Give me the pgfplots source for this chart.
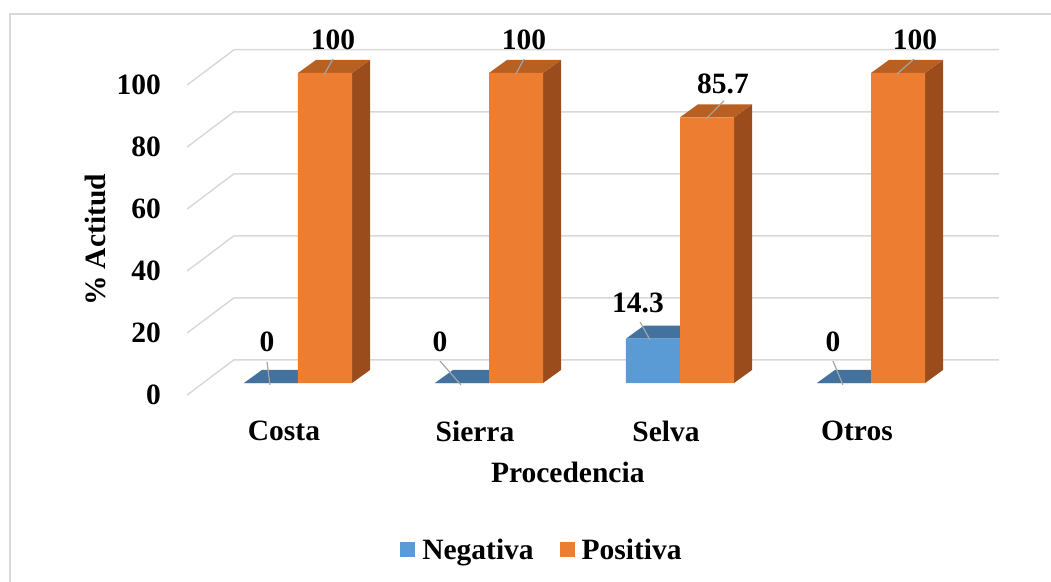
\documentclass[border=0pt]{standalone}
\usepackage{pgfplots}
\pgfplotsset{compat=1.18}
\usepackage{fontspec}
\setmainfont{Liberation Serif}
\definecolor{blueF}{HTML}{5B9BD5}
\definecolor{blueT}{HTML}{44729E}
\definecolor{orangeF}{HTML}{ED7D31}
\definecolor{orangeT}{HTML}{B85F22}
\definecolor{orangeS}{HTML}{9A4C1C}
\definecolor{gridc}{HTML}{D9D9D9}
\definecolor{leadc}{HTML}{A5A5A5}
\newcommand\cf{\fontsize{29.5}{35}\selectfont\bfseries}
\begin{document}
\begin{tikzpicture}
\useasboundingbox (-183.4pt,-182.5pt) rectangle (867.6pt,398.5pt);
\draw[gridc, line width=1.5pt] (-173.4pt,384.5pt) rectangle (900pt,-250pt);
\begin{axis}[
  at={(0,0)}, anchor=south west,
  scale only axis, width=821.3pt, height=372pt,
  xmin=-0.6, xmax=3.7, ymin=-5, ymax=115,
  clip=false,
  axis line style={draw=none},
  major tick length=0pt,
  font=\cf,
  /pgf/number format/assume math mode=true,
  xtick={0,1,2,3},
  xticklabels={Costa,Sierra,Selva,Otros},
  xticklabel style={xshift=-14pt, yshift=-19pt},
  ytick={-3.9,16.1,36.1,56.1,76.1,96.1},
  yticklabels={0,20,40,60,80,100},
  yticklabel style={xshift=-19pt},
  xlabel={Procedencia},
  xlabel style={at={(axis description cs:0.468,-0.1976)}, anchor=center},
  ylabel={\% Actitud},
  ylabel style={at={(axis description cs:-0.1076,0.426)}, anchor=center, rotate=0},
  legend style={at={(axis description cs:0.4366,-0.407)}, anchor=center, draw=none,
    font=\cf, legend columns=2,
    /tikz/every even column/.append style={column sep=24pt}},
  legend image code/.code={\fill[#1, draw=none] (0pt,-7.5pt) rectangle (15pt,7.5pt); \path[draw=none, fill=none] (0pt,0pt) -- (20pt,0pt);},
]
% gridlines (front wall -> back wall -> right)
\addplot[gridc, line width=1.5pt, forget plot] coordinates {(-0.581,-3.9) (-0.335,7.5) (3.670,7.5)};
\addplot[gridc, line width=1.5pt, forget plot] coordinates {(-0.581,16.1) (-0.335,27.5) (3.670,27.5)};
\addplot[gridc, line width=1.5pt, forget plot] coordinates {(-0.581,36.1) (-0.335,47.5) (3.670,47.5)};
\addplot[gridc, line width=1.5pt, forget plot] coordinates {(-0.581,56.1) (-0.335,67.5) (3.670,67.5)};
\addplot[gridc, line width=1.5pt, forget plot] coordinates {(-0.581,76.1) (-0.335,87.5) (3.670,87.5)};
\addplot[gridc, line width=1.5pt, forget plot] coordinates {(-0.581,96.1) (-0.335,107.5) (3.670,107.5)};
% Negativa: top faces
\addplot[fill=blueT, draw=none, forget plot] coordinates {(-0.283,0) (0,0) (0.094,4.2) (-0.189,4.2)};
\addplot[fill=blueT, draw=none, forget plot] coordinates {(0.717,0) (1,0) (1.094,4.2) (0.811,4.2)};
\addplot[fill=blueT, draw=none, forget plot] coordinates {(1.717,14.3) (2,14.3) (2.094,18.5) (1.811,18.5)};
\addplot[fill=blueT, draw=none, forget plot] coordinates {(2.717,0) (3,0) (3.094,4.2) (2.811,4.2)};
% Negativa: front faces
\addplot[ybar, bar width=0.283, bar shift=-0.1415, fill=blueF, draw=none, forget plot]
  coordinates {(0,0) (1,0) (2,14.3) (3,0)};
% Positiva: side faces
\addplot[fill=orangeS, draw=none, forget plot] coordinates {(0.283,0) (0.283,100) (0.377,104.2) (0.377,4.2)};
\addplot[fill=orangeS, draw=none, forget plot] coordinates {(1.283,0) (1.283,100) (1.377,104.2) (1.377,4.2)};
\addplot[fill=orangeS, draw=none, forget plot] coordinates {(2.283,0) (2.283,85.7) (2.377,89.9) (2.377,4.2)};
\addplot[fill=orangeS, draw=none, forget plot] coordinates {(3.283,0) (3.283,100) (3.377,104.2) (3.377,4.2)};
% Positiva: top faces
\addplot[fill=orangeT, draw=none, forget plot] coordinates {(0,100) (0.283,100) (0.377,104.2) (0.094,104.2)};
\addplot[fill=orangeT, draw=none, forget plot] coordinates {(1,100) (1.283,100) (1.377,104.2) (1.094,104.2)};
\addplot[fill=orangeT, draw=none, forget plot] coordinates {(2,85.7) (2.283,85.7) (2.377,89.9) (2.094,89.9)};
\addplot[fill=orangeT, draw=none, forget plot] coordinates {(3,100) (3.283,100) (3.377,104.2) (3.094,104.2)};
% Positiva: front faces
\addplot[ybar, bar width=0.283, bar shift=0.1415, fill=orangeF, draw=none, forget plot]
  coordinates {(0,100) (1,100) (2,85.7) (3,100)};
% leader lines
\addplot[leadc, line width=1.2pt, forget plot] coordinates {(0.136,99.4) (0.183,104.5)};
\addplot[leadc, line width=1.2pt, forget plot] coordinates {(1.141,99.7) (1.183,104.5)};
\addplot[leadc, line width=1.2pt, forget plot] coordinates {(3.136,99.7) (3.225,104.5)};
\addplot[leadc, line width=1.2pt, forget plot] coordinates {(2.136,85.2) (2.230,91.0)};
\addplot[leadc, line width=1.2pt, forget plot] coordinates {(1.843,13.9) (1.791,19.7)};
\addplot[leadc, line width=1.2pt, forget plot] coordinates {(-0.147,-0.6) (-0.162,6.8)};
\addplot[leadc, line width=1.2pt, forget plot] coordinates {(0.853,-0.6) (0.743,7.1)};
\addplot[leadc, line width=1.2pt, forget plot] coordinates {(2.853,-0.6) (2.801,7.1)};
% data labels
\addplot[draw=none, mark=none, forget plot, nodes near coords, point meta=explicit symbolic,
  nodes near coords style={anchor=center, text=black, font=\cf}]
  table[meta=lab] {
x y lab
0.183 110.6 100
1.183 110.6 100
3.230 110.6 100
2.225 96.5 85.7
1.780 25.8 14.3
-0.162 13.2 0
0.743 13.2 0
2.801 13.2 0
};
\addlegendimage{fill=blueF}
\addlegendentry{Negativa}
\addlegendimage{fill=orangeF}
\addlegendentry{Positiva}
\end{axis}
\end{tikzpicture}
\end{document}
